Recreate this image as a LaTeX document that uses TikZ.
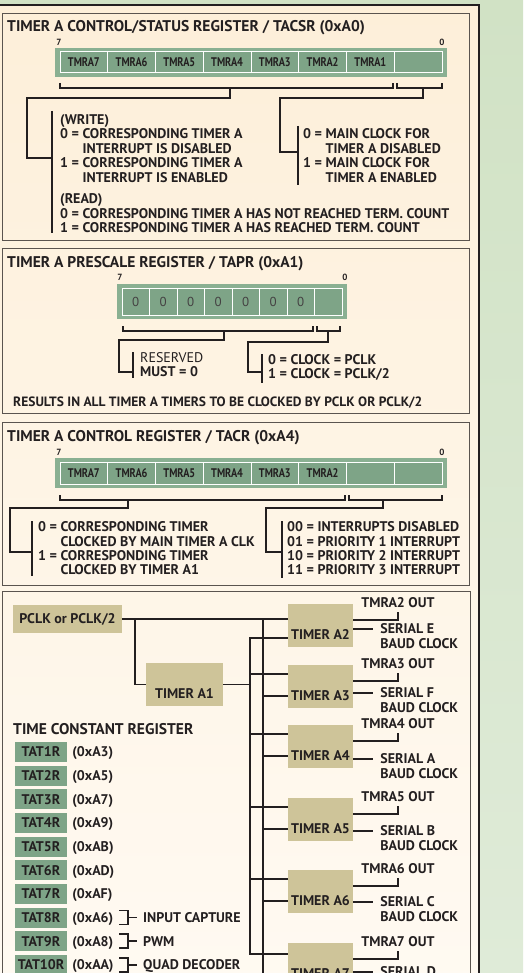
\documentclass[tikz,border=0pt]{standalone}
\usepackage{fontspec}
\setmainfont{PT Sans}
\usetikzlibrary{positioning,calc}

\definecolor{pagegreen}{HTML}{D1E2C5}
\definecolor{pagegreenlow}{HTML}{DFEBD8}
\definecolor{paper}{HTML}{FDEFD9}
\definecolor{paperlow}{HTML}{FFFAF2}
\definecolor{ink}{HTML}{231F20}
\definecolor{rimgray}{HTML}{5A544F}
\definecolor{bargreen}{HTML}{8AB092}
\definecolor{cellgreen}{HTML}{7EA487}
\definecolor{tanfill}{HTML}{CEC499}

\newcommand{\bigfont}{\bfseries\fontsize{14}{16}\selectfont}
\newcommand{\headfont}{\bfseries\fontsize{15.5}{17}\selectfont}
\newcommand{\cellfont}{\bfseries\fontsize{12.5}{14}\selectfont}
\newcommand{\bitfont}{\bfseries\fontsize{9}{10}\selectfont}
\newcommand{\narrow}[1]{\scalebox{0.82}[1]{#1}}

% #1: x left, #2: x right, #3: y of the brace
\newcommand{\bitbrace}[3]{%
	\draw[wire] (#1,#3-5) -- (#1,#3) -- (#2,#3) -- (#2,#3-5);
}
% #1: optional cell style, #2: name, #3: x left, #4: y top, #5: cell width, #6: cell height, #7: labels
\newcommand{\regbar}[7][]{%
	\fill[bargreen] (#3-5,#4-4) rectangle (#3+8*#5+5,#4+#6+4);
	\foreach \lab [count=\i] in {#7}
		\node[cell,minimum width=#5pt,minimum height=#6pt,#1] (#2\i) at (#3+\i*#5-0.5*#5,#4+0.5*#6) {\lab};
}

\begin{document}
\begin{tikzpicture}[x=1pt,y=-1pt,
	wire/.style={draw=ink,line width=1.8pt},
	panel/.style={draw=rimgray,line width=0.9pt},
	cell/.style={draw=white,line width=1pt,fill=cellgreen,inner sep=0pt,text=ink,font=\cellfont},
	txt/.style={anchor=west,inner sep=0pt,text height=9.8pt,text depth=0pt,text=ink,font=\bigfont},
	head/.style={txt,text height=10.8pt,font=\headfont},
	bitno/.style={inner sep=0pt,text=ink,font=\bitfont},
	tanbox/.style={fill=tanfill,inner xsep=0pt,text=ink,font=\bigfont},
	timer/.style={tanbox,minimum width=65pt,minimum height=43pt,inner ysep=7.5pt,text height=28pt,text depth=0pt},
	tatbox/.style={fill=cellgreen,minimum width=52pt,minimum height=20pt,inner sep=0pt,text height=9.8pt,text depth=0pt,text=ink,font=\bigfont},
	]
	\useasboundingbox (0,0) rectangle (523,973);
	\clip (0,0) rectangle (523,973);
	
	% page and frame
	\shade[top color=pagegreen,bottom color=pagegreenlow] (0,0) rectangle (523,973);
	\shade[top color=paper,bottom color=paperlow] (-3,5) rectangle (479,990);
	\draw[ink,line width=2.4pt] (-3,5) -- (479,5) -- (479,990);
	
	% TACSR
	\draw[panel] (2,13) rectangle (469,240);
	\node[head] (tacsr) at (7,26) {TIMER A CONTROL/STATUS REGISTER / TACSR (0xA0)};
	\node[bitno] (sr7) at (59,42) {7};
	\node[bitno] (sr0) at (442,42) {0};
	\regbar{srbit}{60}{52}{47.75}{21}{\narrow{TMRA7},\narrow{TMRA6},\narrow{TMRA5},\narrow{TMRA4},\narrow{TMRA3},\narrow{TMRA2},\narrow{TMRA1},{}}
	\bitbrace{60}{393}{88}
	\bitbrace{397}{442}{88}
	\draw[wire] (230,88) |- (27,98) |- (52,158);
	\draw[wire] (423,88) |- (280,98) |- (298,152);
	\draw[wire] (52,111) -- (52,233);
	\draw[wire] (298,126) -- (298,185);
	\node[txt] (wr0) at (60,119.5) {(WRITE)};
	\node[txt] (wr1) at (60,134) {0 = CORRESPONDING TIMER A};
	\node[txt] (wr2) at (60,148.5) {\phantom{0 = }INTERRUPT IS DISABLED};
	\node[txt] (wr3) at (60,163) {1 = CORRESPONDING TIMER A};
	\node[txt] (wr4) at (60,178) {\phantom{1 = }INTERRUPT IS ENABLED};
	\node[txt] (rd0) at (60,199) {(READ)};
	\node[txt] (rd1) at (60,213.5) {0 = CORRESPONDING TIMER A HAS NOT REACHED TERM. COUNT};
	\node[txt] (rd2) at (60,228) {1 = CORRESPONDING TIMER A HAS REACHED TERM. COUNT};
	\node[txt] (mc0) at (303,134) {0 = MAIN CLOCK FOR};
	\node[txt] (mc1) at (303,148.5) {\phantom{0 = }TIMER A DISABLED};
	\node[txt] (mc2) at (303,163) {1 = MAIN CLOCK FOR};
	\node[txt] (mc3) at (303,178) {\phantom{1 = }TIMER A ENABLED};
	
	% TAPR
	\draw[panel] (2,248) rectangle (469,413);
	\node[head] (tapr) at (7,262) {TIMER A PRESCALE REGISTER / TAPR (0xA1)};
	\node[bitno] (pr7) at (120,277) {7};
	\node[bitno] (pr0) at (345,277) {0};
	\regbar[font=\mdseries\fontsize{13}{15}\selectfont,text=ink!85]{prbit}{122}{288}{27.5}{27}{0,0,0,0,0,0,0,{}}
	\bitbrace{123}{313}{331}
	\bitbrace{317}{340}{331}
	\draw[wire] (224,331) |- (119,340) |- (133,372);
	\draw[wire] (328,331) |- (248,342) |- (262,372);
	\draw[wire] (133,352) -- (133,378);
	\draw[wire] (262,354) -- (262,383);
	\node[txt,font=\mdseries\fontsize{14}{16}\selectfont] (rsv0) at (140,357.5) {RESERVED};
	\node[txt] (rsv1) at (140,372) {MUST = 0};
	\node[txt] (ck0) at (268,360) {0 = CLOCK = PCLK};
	\node[txt] (ck1) at (268,373.5) {1 = CLOCK = PCLK/2};
	\node[txt,font=\bfseries\fontsize{13.5}{15}\selectfont] (result) at (13,402) {RESULTS IN ALL TIMER A TIMERS TO BE CLOCKED BY PCLK OR PCLK/2};
	
	% TACR
	\draw[panel] (2,422) rectangle (469,585);
	\node[head] (tacr) at (7,436) {TIMER A CONTROL REGISTER / TACR (0xA4)};
	\node[bitno] (cr7) at (59,452) {7};
	\node[bitno] (cr0) at (442,452) {0};
	\regbar{crbit}{60}{462}{47.75}{22}{\narrow{TMRA7},\narrow{TMRA6},\narrow{TMRA5},\narrow{TMRA4},\narrow{TMRA3},\narrow{TMRA2},{},{}}
	\bitbrace{60}{345}{500}
	\bitbrace{349}{442}{500}
	\draw[wire] (128,500) |- (10,508) |- (32,552);
	\draw[wire] (383,500) |- (266,508) |- (282,552);
	\draw[wire] (32,521) -- (32,576);
	\draw[wire] (282,521) -- (282,578);
	\node[txt] (sel0) at (38,527) {0 = CORRESPONDING TIMER};
	\node[txt] (sel1) at (38,541.5) {\phantom{0 = }CLOCKED BY MAIN TIMER A CLK};
	\node[txt] (sel2) at (38,555.5) {1 = CORRESPONDING TIMER};
	\node[txt] (sel3) at (38,570) {\phantom{1 = }CLOCKED BY TIMER A1};
	\node[txt] (pri0) at (287,527) {00 = INTERRUPTS DISABLED};
	\node[txt] (pri1) at (287,541.5) {01 = PRIORITY 1 INTERRUPT};
	\node[txt] (pri2) at (287,555.5) {10 = PRIORITY 2 INTERRUPT};
	\node[txt] (pri3) at (287,570) {11 = PRIORITY 3 INTERRUPT};
	
	% timer chain
	\draw[panel] (2,591) rectangle (470,1000);
	\node[tanbox,minimum width=109pt,minimum height=28pt,text height=9.8pt,text depth=0pt] (pclk) at (67.5,619) {PCLK or PCLK/2};
	\node[timer,minimum width=77pt] (ta1) at (184.5,684.5) {TIMER A1};
	\foreach \k/\ty/\sr/\sd in {2/604/E/25,3/665/F/28,4/725/A/34,5/798/B/33,6/870/C/32,7/943/D/29} {
		\node[timer] (ta\k) at (320.5,\ty+21.5) {TIMER A\k};
		\coordinate (out\k) at (398,\ty+8);
		\draw[wire] ([yshift=-16pt]ta\k.north east) -| (out\k);
		\node[txt,anchor=south] (tmra\k) at ([yshift=4pt]out\k) {TMRA\k\ OUT};
		\draw[wire] ([yshift=-\sd pt]ta\k.north east) -- ++(20,0) coordinate (ser\k);
		\node[txt] (serial\k) at ([xshift=7pt]ser\k) {SERIAL \sr};
		\node[txt] (baud\k) at ([yshift=-14.5pt]serial\k.west) {BAUD CLOCK};
	}
	\draw[wire] (pclk.east) -- (pclk.east -| ta2.west);
	\draw[wire] ($(pclk.east)+(13,0)$) |- (ta1.west);
	\draw[wire] ($(pclk.east -| ta2.west)+(-25,0)$) -- +(0,380);
	\draw[wire] (ta1.east) -- +(27,0);
	\draw[wire] ([yshift=-34pt]ta2.north west) -- +(-38,0) |- ([yshift=-11pt]ta7.north west);
	\foreach \k in {3,...,6}
		\draw[wire] ([yshift=-9pt]ta\k.north west) -- +(-38,0);
	\foreach \k in {3,...,7}
		\draw[wire] ([yshift=-31pt]ta\k.north west) -- +(-25,0);
	
	% time constant registers
	\node[head] (tcr) at (13,729) {TIME CONSTANT REGISTER};
	\foreach \i/\a in {1/A3,2/A5,3/A7,4/A9,5/AB,6/AD,7/AF,8/A6,9/A8,10/AA} {
		\node[tatbox] (tat\i) at (41,752+23.65*\i-23.65) {TAT\i R};
		\node[txt,right=5pt of tat\i] (addr\i) {(0x\a)};
	}
	\foreach \i/\l in {8/INPUT CAPTURE,9/PWM,10/QUAD DECODER} {
		\draw[wire] ($(tat\i)+(78,-7)$) -- ++(9,0) -- ++(0,14) -- ++(-9,0);
		\draw[wire] ($(tat\i)+(87,0)$) -- ++(9,0) coordinate (cap\i);
		\node[txt] (use\i) at ([xshift=6pt]cap\i) {\l};
	}
\end{tikzpicture}
\end{document}
